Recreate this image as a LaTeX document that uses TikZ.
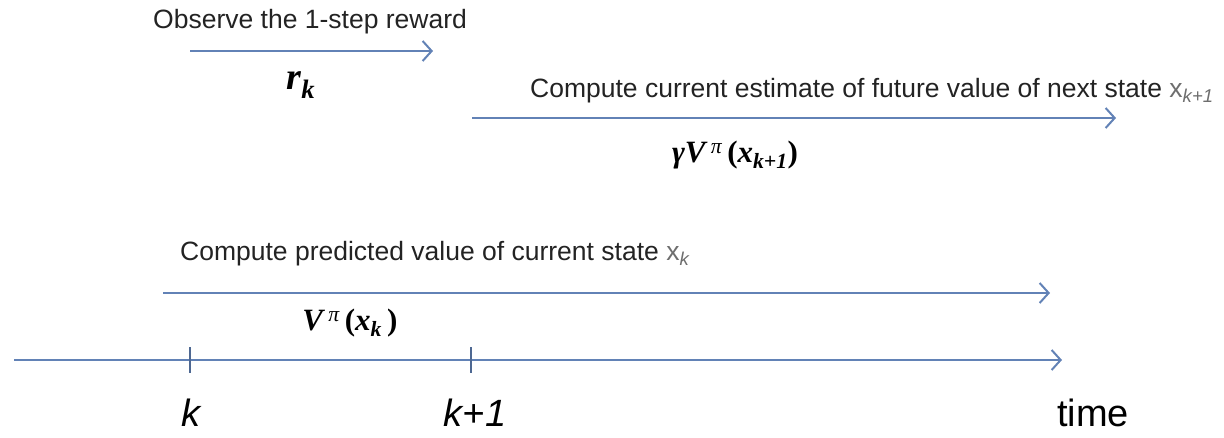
\documentclass[tikz,border=0pt]{standalone}
\usepackage{fontspec}
\setmainfont{Liberation Sans}
\newfontfamily\tms{Liberation Serif}
\usetikzlibrary{arrows.meta}
\definecolor{arrowblue}{RGB}{98,130,182}
\definecolor{txt}{RGB}{35,35,35}
\definecolor{vargray}{RGB}{110,110,110}
\begin{document}
\begin{tikzpicture}[x=1pt,y=-1pt,
  lbl/.style={font=\fontsize{26.5}{30}\selectfont, text=txt, inner sep=0pt, anchor=west},
  axislbl/.style={font=\fontsize{38}{44}\selectfont, text=black, inner sep=0pt},
  mathlbl/.style={text=black, inner sep=0pt},
  flow/.style={draw=arrowblue, line width=2pt, -{Straight Barb[length=9pt,width=20pt,line width=2pt]}},
  tick/.style={draw=arrowblue!80!black, line width=1.5pt}]
\useasboundingbox (0,0) rectangle (1224,437);
% labels
\node[lbl] (t1) at (153,22) {Observe the 1-step reward};
\node[lbl] (t2) at (530,91) {Compute current estimate of future value of next state {\color{vargray}x\textsubscript{\itshape k+1}}};
\node[lbl] (t3) at (180,254) {Compute predicted value of current state {\color{vargray}x\textsubscript{\itshape k}}};
% math labels
\node[mathlbl, font=\fontsize{38}{42}\selectfont\tms\bfseries\itshape] (rk) at (301,85) {r\textsubscript{k}};
\node[mathlbl, font=\fontsize{31}{36}\selectfont\tms\bfseries] (gv) at (735,155) {{\itshape γV}\,\textsuperscript{\mdseries\itshape π}\,(\textit{x}\textsubscript{\itshape k+1})};
\node[mathlbl, font=\fontsize{31}{36}\selectfont\tms\bfseries] (vk) at (350,323) {{\itshape V}\,\textsuperscript{\mdseries\itshape π}\,(\textit{x}\textsubscript{\itshape k}\,)};
% arrow ends
\coordinate (a1s) at (190,51);  \coordinate (a1e) at (433,51);
\coordinate (a2s) at (472,118); \coordinate (a2e) at (1116,118);
\coordinate (a3s) at (163,293); \coordinate (a3e) at (1050,293);
\coordinate (axs) at (14,360);  \coordinate (axe) at (1062,360);
\draw[flow] (a1s) -- (a1e);
\draw[flow] (a2s) -- (a2e);
\draw[flow] (a3s) -- (a3e);
\draw[flow] (axs) -- (axe);
% ticks
\coordinate (k0t) at (190,347); \coordinate (k0b) at (190,373);
\coordinate (k1t) at (471,347); \coordinate (k1b) at (471,373);
\draw[tick] (k0t) -- (k0b);
\draw[tick] (k1t) -- (k1b);
% axis labels
\node[axislbl, font=\fontsize{38}{44}\selectfont\itshape] (lk) at (191,413) {k};
\node[axislbl, font=\fontsize{38}{44}\selectfont\itshape] (lk1) at (475,413) {k+1};
\node[axislbl] (ltime) at (1093,413) {time};
\end{tikzpicture}
\end{document}
